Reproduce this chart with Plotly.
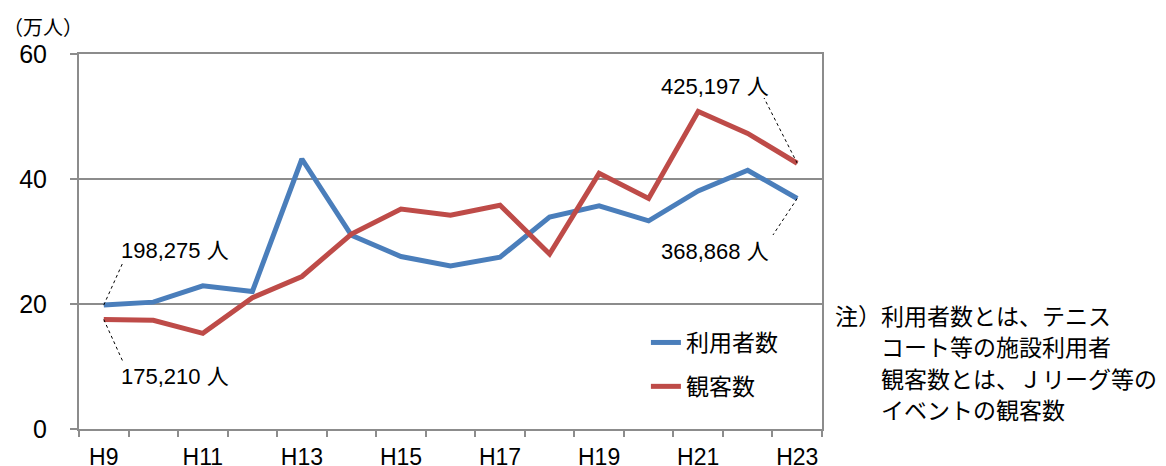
import plotly.graph_objects as go

# ---- data ----
years = ["H9", "H10", "H11", "H12", "H13", "H14", "H15", "H16", "H17", "H18",
         "H19", "H20", "H21", "H22", "H23"]
users = [19.8275, 20.3, 22.9, 22.0, 43.2, 31.0, 27.6, 26.1, 27.5, 33.9,
         35.7, 33.3, 38.1, 41.4, 36.8868]          # 利用者数 (万人)
spectators = [17.521, 17.4, 15.3, 21.0, 24.4, 31.2, 35.2, 34.2, 35.8, 28.0,
              40.9, 36.9, 50.8, 47.3, 42.5197]     # 観客数 (万人)
tick_labels = ["H9", "", "H11", "", "H13", "", "H15", "", "H17", "", "H19", "",
               "H21", "", "H23"]
series_names = ["利用者数", "観客数"]
note_lines = ["注）利用者数とは、テニス", "　　コート等の施設利用者",
              "　　観客数とは、Ｊリーグ等の", "　　イベントの観客数"]

BLUE = "#4A7EBB"
RED = "#BE4B48"
GRID = "#8C8C8C"
LATIN = "Liberation Sans, Arial, Noto Sans CJK JP, sans-serif"
CJK = "Noto Sans CJK JP, sans-serif"

xs = list(range(len(years)))

fig = go.Figure()
fig.add_trace(go.Scatter(x=xs, y=users, mode="lines", name=series_names[0],
                         line=dict(color=BLUE, width=5), legendgroup="a"))
fig.add_trace(go.Scatter(x=xs, y=spectators, mode="lines", name=series_names[1],
                         line=dict(color=RED, width=5), legendgroup="b"))

# value labels with dotted leaders
labels = [
    (0, users[0], 0.39, 26.7, 1.44, 28.56, "198,275 人"),
    (0, spectators[0], 0.39, 10.72, 1.44, 8.48, "175,210 人"),
    (14, spectators[14], 13.33, 52.96, 12.34, 54.8, "425,197 人"),
    (14, users[14], 13.51, 31.04, 12.34, 28.48, "368,868 人"),
]
for px, py, lx, ly, tx, ty, txt in labels:
    fig.add_shape(type="line", xref="x", yref="y", x0=px, y0=py, x1=lx, y1=ly,
                  line=dict(color="black", width=1, dash="dot"))
    fig.add_annotation(x=tx, y=ty, xref="x", yref="y", text=txt, showarrow=False,
                       font=dict(family=LATIN, size=22, color="black"))

# unit label
fig.add_annotation(x=-36 / 743, y=(429 - 27) / 375, xref="paper", yref="paper",
                   text="（万人）", showarrow=False, xanchor="center", yanchor="middle",
                   font=dict(family=CJK, size=20, color="black"))

# note
note_y = [315, 346, 378, 409]
for line, yy in zip(note_lines, note_y):
    fig.add_annotation(x=(834 - 79) / 743, y=(429 - yy) / 375, xref="paper", yref="paper",
                       text=line, showarrow=False, xanchor="left", yanchor="middle",
                       borderpad=0, font=dict(family=CJK, size=23, color="black"))

# page body has an 8px margin, so the figure is sized to fit the 1166x466 window
fig.update_layout(
    width=1158, height=458,
    margin=dict(l=71, r=344, t=46, b=37, autoexpand=False),
    paper_bgcolor="white", plot_bgcolor="white",
    showlegend=True,
    legend=dict(x=0.763, y=0.172, xanchor="left", yanchor="middle",
                font=dict(family=CJK, size=23, color="black"),
                bgcolor="rgba(0,0,0,0)", tracegroupgap=11, traceorder="grouped"),
    xaxis=dict(range=[-0.5, 14.5], tickmode="array", tickvals=xs, ticktext=tick_labels,
               ticks="outside", ticklen=6, tickcolor="rgba(0,0,0,0)",
               showline=True, linecolor=GRID, linewidth=2, mirror=True,
               showgrid=False, zeroline=False, ticklabelstandoff=0, automargin=False,
               tickfont=dict(family="Liberation Sans Narrow, Arial Narrow, Liberation Sans, sans-serif",
                             size=23, color="black"),
               minor=dict(tickmode="array", tickvals=[i - 0.5 for i in range(16)],
                          ticks="outside", ticklen=6, tickcolor=GRID, tickwidth=2,
                          showgrid=False)),
    yaxis=dict(range=[0, 60], tickmode="array", tickvals=[0, 20, 40, 60],
               ticks="outside", ticklen=7, tickcolor=GRID, tickwidth=2,
               showline=True, linecolor=GRID, linewidth=2, mirror=True,
               showgrid=True, gridcolor=GRID, gridwidth=2, zeroline=False,
               ticklabelstandoff=18, automargin=False,
               tickfont=dict(family=LATIN, size=25, color="black")),
)

fig.write_html("out.html")
